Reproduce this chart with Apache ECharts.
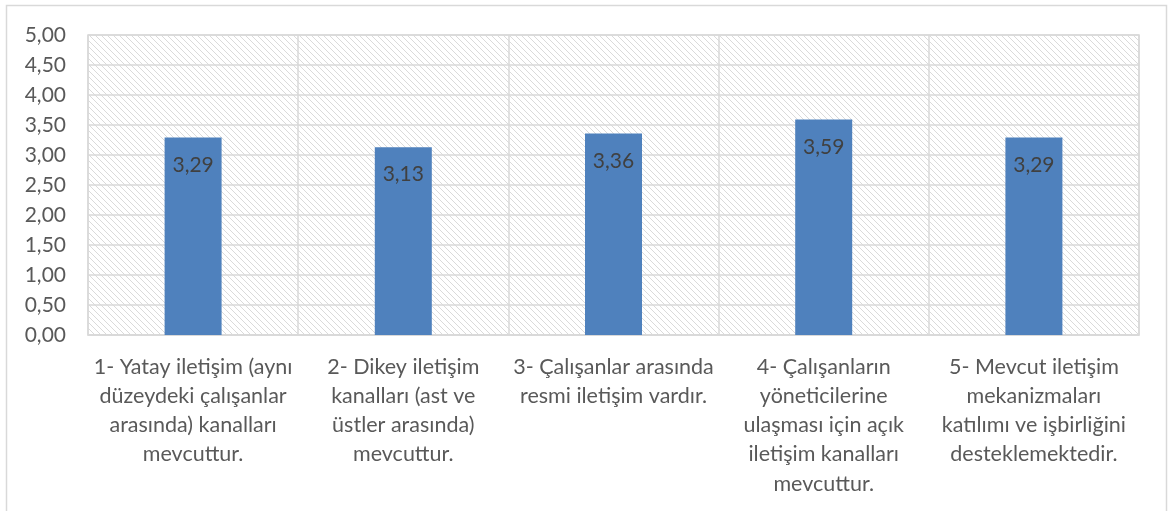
<!DOCTYPE html>
<html><head><meta charset="utf-8">
<script src="https://cdn.jsdelivr.net/npm/echarts@6/dist/echarts.min.js"></script>
<style>html,body{margin:0;padding:0;background:#fff}#c{width:1168px;height:511px}</style>
</head><body><div id="c"></div>
<script>
const categories = [
  "1- Yatay iletişim (aynı\ndüzeydeki çalışanlar\narasında) kanalları\nmevcuttur.",
  "2- Dikey iletişim\nkanalları (ast ve\nüstler arasında)\nmevcuttur.",
  "3- Çalışanlar arasında\nresmi iletişim vardır.",
  "4- Çalışanların\nyöneticilerine\nulaşması için açık\niletişim kanalları\nmevcuttur.",
  "5- Mevcut iletişim\nmekanizmaları\nkatılımı ve işbirliğini\ndesteklemektedir."
];
const values = [3.29, 3.13, 3.36, 3.59, 3.29];
const yMin = 0, yMax = 5, yStep = 0.5;

const pc = document.createElement('canvas');
pc.width = 6; pc.height = 6;
const g = pc.getContext('2d');
g.fillStyle = '#fff'; g.fillRect(0,0,6,6);
g.strokeStyle = '#dadada'; g.lineWidth = 1;
g.beginPath();
g.moveTo(-1,-1); g.lineTo(7,7);
g.moveTo(-4,2); g.lineTo(2,8);
g.moveTo(2,-4); g.lineTo(8,2);
g.stroke();

const fmt = v => v.toFixed(2).replace('.', ',');
const font = 'Lato, "Open Sans", sans-serif';
const chart = echarts.init(document.getElementById('c'));
chart.setOption({
  animation: false,
  grid: { left: 88, right: 29, top: 35, bottom: 176, show: true,
          backgroundColor: { image: pc, repeat: 'repeat' }, borderColor: '#d9d9d9', borderWidth: 1.5 },
  xAxis: {
    type: 'category', data: categories,
    axisLine: { lineStyle: { color: '#d9d9d9', width: 1.5 } },
    axisTick: { show: false },
    splitLine: { show: true, lineStyle: { color: '#d9d9d9', width: 1.5 } },
    axisLabel: { interval: 0, color: '#595959', fontSize: 21.5, fontFamily: font, lineHeight: 29.3, margin: 17, align: 'center' }
  },
  yAxis: {
    type: 'value', min: yMin, max: yMax, interval: yStep,
    axisLine: { show: false }, axisTick: { show: false },
    splitLine: { lineStyle: { color: '#d9d9d9', width: 1.5 } },
    axisLabel: { color: '#595959', fontSize: 21, fontFamily: font, margin: 22, formatter: fmt }
  },
  series: [{
    type: 'bar', data: values, barWidth: 57,
    itemStyle: { color: '#4f81bd' },
    label: { show: true, position: 'insideTop', distance: 17, color: '#404040', fontSize: 21, fontFamily: font,
             formatter: p => fmt(p.value) }
  }],
  graphic: [{ type: 'rect', shape: { x: 6.5, y: 5.5, width: 1160, height: 520 },
    style: { fill: 'none', stroke: '#d9d9d9', lineWidth: 1.5 }, silent: true }]
});
</script></body></html>
